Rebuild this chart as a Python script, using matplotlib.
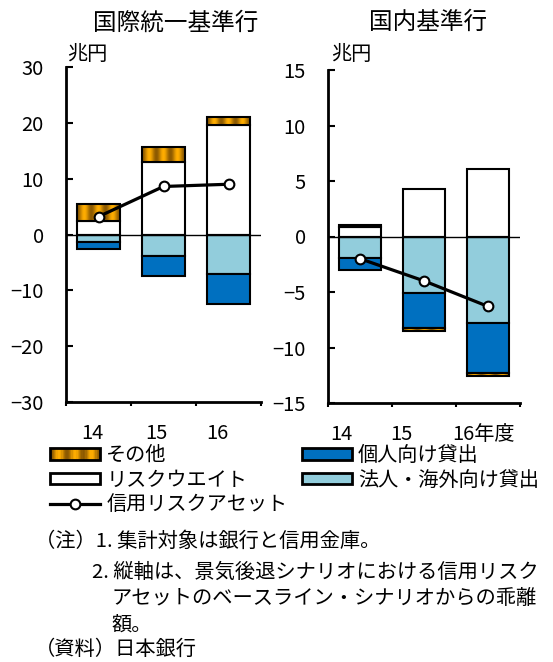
import numpy as np
import matplotlib
matplotlib.use('Agg')
import matplotlib.pyplot as plt
import matplotlib.transforms as mtransforms
from matplotlib.patches import Rectangle
from matplotlib.lines import Line2D
from matplotlib.legend_handler import HandlerBase

plt.rcParams['font.family'] = ['Noto Sans CJK JP', 'DejaVu Sans']
plt.rcParams['axes.unicode_minus'] = True

# 年度
years = ['14', '15', '16']
year_labels_dom = ['14', '15', '16年度']

# 国際統一基準行（兆円）
rw_intl = [2.5, 12.9, 19.6]        # リスクウエイト
other_intl = [2.9, 2.8, 1.4]       # その他
corp_intl = [-1.3, -3.9, -7.1]     # 法人・海外向け貸出
indiv_intl = [-1.3, -3.6, -5.3]    # 個人向け貸出
rwa_intl = [3.2, 8.6, 9.0]         # 信用リスクアセット

# 国内基準行（兆円）
rw_dom = [0.85, 4.3, 6.1]
other_dom = [0.15, -0.22, -0.25]
corp_dom = [-1.95, -5.1, -7.75]
indiv_dom = [-1.1, -3.15, -4.55]
rwa_dom = [-2.0, -4.0, -6.3]

DARK_BLUE = '#0070C0'
LIGHT_BLUE = '#92CDDC'

W, H = 553, 662
fig = plt.figure(figsize=(W / 100, H / 100), dpi=100)


def px_axes(x0, y0, x1, y1):
    return fig.add_axes([x0 / W, 1 - y1 / H, (x1 - x0) / W, (y1 - y0) / H])


def stripe_rgb(n, periods=3):
    t = np.linspace(0, 1, n)
    w = 0.5 - 0.5 * np.cos(2 * np.pi * periods * t)
    dark = np.array([0.55, 0.35, 0.0])
    bright = np.array([1.0, 0.68, 0.0])
    return dark + w[:, None] * (bright - dark)


class StripeHandler(HandlerBase):
    def create_artists(self, legend, orig_handle, xdescent, ydescent,
                       width, height, fontsize, trans):
        cols = stripe_rgb(40)
        n = len(cols)
        arts = []
        for i, c in enumerate(cols):
            arts.append(Rectangle((-xdescent + i * width / n, -ydescent),
                                  width / n + 0.3, height, facecolor=c,
                                  edgecolor='none', transform=trans))
        arts.append(Rectangle((-xdescent, -ydescent), width, height,
                              facecolor='none', edgecolor='black', lw=2,
                              transform=trans))
        return arts


def draw_panel(ax, rw, other, corp, indiv, rwa, ylim, step, labels, dx):
    x = np.arange(len(years)) + 0.5
    width = 0.66
    kw = dict(edgecolor='black', linewidth=1.5, zorder=2)
    ax.bar(x, rw, width, color='white', **kw)
    ax.bar(x, corp, width, color=LIGHT_BLUE, **kw)
    ax.bar(x, indiv, width, bottom=corp, color=DARK_BLUE, **kw)
    neg_base = np.add(corp, indiv)
    base = np.where(np.array(other) >= 0, rw, neg_base)
    bars = ax.bar(x, other, width, bottom=base, color='none',
                  edgecolor='black', linewidth=1.5, zorder=3)
    for b in bars:
        x0, y0, bw, bh = b.get_x(), b.get_y(), b.get_width(), b.get_height()
        im = ax.imshow(stripe_rgb(64)[None, :, :],
                       extent=(x0, x0 + bw, min(y0, y0 + bh), max(y0, y0 + bh)),
                       aspect='auto', interpolation='bilinear', zorder=2.5)
        im.set_clip_path(b)

    ax.axhline(0, color='black', linewidth=1, zorder=2.8)
    ax.plot(x, rwa, color='black', linewidth=2.3, marker='o', markersize=7,
            markerfacecolor='white', markeredgecolor='black',
            markeredgewidth=1.5, zorder=5)

    ax.set_xlim(0, len(years))
    ax.set_ylim(*ylim)
    ax.set_aspect('auto')
    ax.set_yticks(np.arange(ylim[0], ylim[1] + step / 2, step))
    ax.set_xticks(np.arange(len(years) + 1))
    ax.set_xticklabels([])
    ax.tick_params(axis='y', direction='in', length=5, width=1.5,
                   labelsize=14.5, pad=16)
    ax.tick_params(axis='x', direction='out', length=3, width=1.5)
    for s in ['top', 'right']:
        ax.spines[s].set_visible(False)
    for s in ['left', 'bottom']:
        ax.spines[s].set_linewidth(2)

    base_tr = mtransforms.blended_transform_factory(ax.transData, ax.transAxes)
    for xi, lbl, d in zip(x, labels, dx):
        tr = base_tr + mtransforms.ScaledTranslation(d / 100, -31 / 100,
                                                    fig.dpi_scale_trans)
        ax.text(xi, 0, lbl, transform=tr, ha='center', va='center',
                fontsize=14.5)


ax1 = px_axes(66, 67, 261, 402)
draw_panel(ax1, rw_intl, other_intl, corp_intl, indiv_intl, rwa_intl,
           (-30, 30), 10, years, [-6, -7, -11])

ax2 = px_axes(328, 70, 520, 403)
draw_panel(ax2, rw_dom, other_dom, corp_dom, indiv_dom, rwa_dom,
           (-15, 15), 5, year_labels_dom, [-19, -23, -5])

fig.text(176 / W, 1 - 23 / H, '国際統一基準行', ha='center', va='center',
         fontsize=17)
fig.text(428 / W, 1 - 22 / H, '国内基準行', ha='center', va='center',
         fontsize=17)
fig.text(67 / W, 1 - 55 / H, '兆円', ha='left', va='center', fontsize=14.5)
fig.text(331 / W, 1 - 55 / H, '兆円', ha='left', va='center', fontsize=14.5)

# 凡例
h_other = Rectangle((0, 0), 1, 1)
h_rw = Rectangle((0, 0), 1, 1, facecolor='white', edgecolor='black', lw=2)
h_rwa = Line2D([], [], color='black', linewidth=2.3, marker='o', markersize=7,
               markerfacecolor='white', markeredgecolor='black',
               markeredgewidth=1.5)
h_indiv = Rectangle((0, 0), 1, 1, facecolor=DARK_BLUE, edgecolor='black', lw=2)
h_corp = Rectangle((0, 0), 1, 1, facecolor=LIGHT_BLUE, edgecolor='black', lw=2)
fig.legend([h_other, h_rw, h_rwa, h_indiv, h_corp],
           ['その他', 'リスクウエイト', '信用リスクアセット',
            '個人向け貸出', '法人・海外向け貸出'],
           handler_map={h_other: StripeHandler()},
           loc='upper left', bbox_to_anchor=(50 / W, 1 - 445 / H), ncol=2,
           frameon=False, fontsize=14.5, handlelength=2.5, handleheight=0.5,
           handletextpad=0.3, columnspacing=0.7, labelspacing=0.18,
           borderpad=0, borderaxespad=0)

# 注記
fs = 14.6
fig.text(35 / W, 1 - 541 / H, '（注）1. 集計対象は銀行と信用金庫。',
         ha='left', va='center', fontsize=fs)
fig.text(92 / W, 1 - 572 / H, '2. 縦軸は、景気後退シナリオにおける信用リスク',
         ha='left', va='center', fontsize=fs)
fig.text(112 / W, 1 - 599 / H, 'アセットのベースライン・シナリオからの乖離',
         ha='left', va='center', fontsize=fs)
fig.text(112 / W, 1 - 625 / H, '額。', ha='left', va='center', fontsize=fs)
fig.text(35 / W, 1 - 649 / H, '（資料）日本銀行', ha='left', va='center',
         fontsize=fs)

fig.savefig('out.png', dpi=100)
plt.close(fig)
